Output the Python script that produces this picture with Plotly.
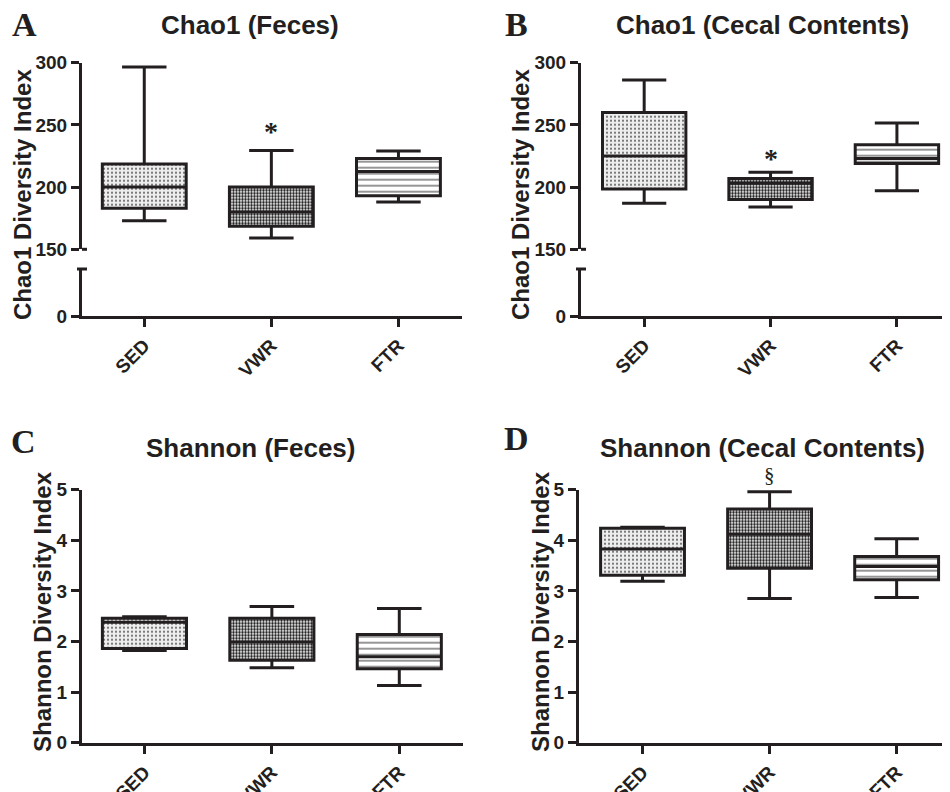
import plotly.graph_objects as go

cats = ["SED", "VWR", "FTR"]

# Panel A: Chao1 (Feces)
a_low = [173, 159, 188]
a_q1 = [183, 168.5, 193]
a_med = [200, 180, 212.5]
a_q3 = [218.5, 200, 223]
a_high = [296.5, 229.5, 229]

# Panel B: Chao1 (Cecal Contents)
b_low = [187, 184, 197]
b_q1 = [198.5, 190, 219]
b_med = [225, 203, 223]
b_q3 = [260, 207, 234]
b_high = [286, 212, 251.5]

# Panel C: Shannon (Feces)
c_low = [1.82, 1.48, 1.13]
c_q1 = [1.86, 1.63, 1.46]
c_med = [2.38, 1.99, 1.70]
c_q3 = [2.46, 2.46, 2.14]
c_high = [2.49, 2.69, 2.65]

# Panel D: Shannon (Cecal Contents)
d_low = [3.19, 2.85, 2.87]
d_q1 = [3.31, 3.45, 3.22]
d_med = [3.83, 4.12, 3.48]
d_q3 = [4.24, 4.62, 3.68]
d_high = [4.26, 4.96, 4.03]

# significance markers (on VWR)
sig_text = ["*", "*", "§"]
sig_y = [245, 223, 5.30]

chao_range = [150, 300]
chao_ticks = [150, 200, 250, 300]
shannon_range = [0, 5]
shannon_ticks = [0, 1, 2, 3, 4, 5]

INK = "#231f20"
FONT = "Liberation Sans"

pat_shape = [".", ".", "-"]
pat_fg = ["#555555", "#111111", "#8a8a8a"]
pat_bg = ["#ededed", "#ffffff", "#ffffff"]
pat_size = [4, 3, 6]
pat_sol = [0.2, 0.5, 0.3]

# page has an 8px body margin; figure is sized to fit the window
OFF = 8
W, H = 950 - OFF, 792 - OFF


def fx(px):
    return (px - OFF) / W


def fy(py):
    return 1 - (py - OFF) / H


fig = go.Figure()


def add_panel(xa, ya, low, q1, med, q3, high):
    fig.add_trace(go.Bar(
        x=cats, y=[b - a for a, b in zip(q1, q3)], base=q1, width=0.66,
        xaxis=xa, yaxis=ya, showlegend=False, hoverinfo="skip",
        marker=dict(color="white", line=dict(width=0),
                    pattern=dict(shape=pat_shape, fgcolor=pat_fg, bgcolor=pat_bg,
                                 size=pat_size, solidity=pat_sol, fillmode="replace")),
    ))
    fig.add_trace(go.Box(
        x=cats, q1=q1, median=med, q3=q3, lowerfence=low, upperfence=high,
        xaxis=xa, yaxis=ya, width=0.66, whiskerwidth=0.53,
        line=dict(color=INK, width=3), fillcolor="rgba(0,0,0,0)",
        showlegend=False, hoverinfo="skip", boxpoints=False,
    ))


add_panel("x", "y", a_low, a_q1, a_med, a_q3, a_high)
add_panel("x2", "y3", b_low, b_q1, b_med, b_q3, b_high)
add_panel("x3", "y5", c_low, c_q1, c_med, c_q3, c_high)
add_panel("x4", "y6", d_low, d_q1, d_med, d_q3, d_high)
# dummy traces for the lower (broken) segments
fig.add_trace(go.Scatter(x=[], y=[], xaxis="x", yaxis="y2", showlegend=False))
fig.add_trace(go.Scatter(x=[], y=[], xaxis="x2", yaxis="y4", showlegend=False))

tickfont = dict(family=FONT, size=19, color=INK, weight="bold")
ax_common = dict(showline=True, linewidth=3, linecolor=INK, ticks="outside",
                 ticklen=8, tickwidth=3, tickcolor=INK, showgrid=False,
                 zeroline=False, tickfont=tickfont, fixedrange=True, automargin=False)

xA = [fx(82), fx(462)]
xB = [fx(581), 1.0]
xC = [fx(82), fx(463)]
xD = [fx(579), 1.0]
yUp = [fy(249.3), fy(62.7)]
yLow = [fy(316), fy(269)]
ySh = [fy(742.7), fy(489.7)]

xcat = dict(type="category", categoryorder="array", categoryarray=cats, tickangle=-45)

fig.update_layout(
    template="none",
    width=W, height=H, margin=dict(l=0, r=0, t=0, b=0, pad=0, autoexpand=False),
    paper_bgcolor="white", plot_bgcolor="rgba(0,0,0,0)",
    barmode="overlay", boxmode="overlay", showlegend=False,
    xaxis=dict(**ax_common, **xcat, domain=xA, range=[-0.49, 2.5], anchor="y2"),
    xaxis2=dict(**ax_common, **xcat, domain=xB, range=[-0.5, 2.42], anchor="y4"),
    xaxis3=dict(**ax_common, **xcat, domain=xC, range=[-0.49, 2.5], anchor="y5"),
    xaxis4=dict(**ax_common, **xcat, domain=xD, range=[-0.5, 2.42], anchor="y6"),
    yaxis=dict(**ax_common, domain=yUp, range=chao_range, tickvals=chao_ticks, anchor="x"),
    yaxis2=dict(**ax_common, domain=yLow, range=[0, 1], tickvals=[0], anchor="x"),
    yaxis3=dict(**ax_common, domain=yUp, range=chao_range, tickvals=chao_ticks, anchor="x2"),
    yaxis4=dict(**ax_common, domain=yLow, range=[0, 1], tickvals=[0], anchor="x2"),
    yaxis5=dict(**ax_common, domain=ySh, range=shannon_range, tickvals=shannon_ticks, anchor="x3"),
    yaxis6=dict(**ax_common, domain=ySh, range=shannon_range, tickvals=shannon_ticks, anchor="x4"),
)

# axis break caps
shapes = []
for xa, yu, yl, dw in [("x", "y", "y2", 5 / 380), ("x2", "y3", "y4", 5 / 369)]:
    shapes.append(dict(type="line", xref=f"{xa} domain", yref=f"{yu} domain",
                       x0=0, x1=dw, y0=0, y1=0, line=dict(color=INK, width=3)))
    shapes.append(dict(type="line", xref=f"{xa} domain", yref=f"{yl} domain",
                       x0=-dw, x1=dw, y0=1, y1=1, line=dict(color=INK, width=3)))
fig.update_layout(shapes=shapes)

ann = []
titles = [("Chao1 (Feces)", 250, 25), ("Chao1 (Cecal Contents)", 762, 25),
          ("Shannon (Feces)", 250, 448), ("Shannon (Cecal Contents)", 762, 448)]
for t, px, py in titles:
    ann.append(dict(text=t, x=fx(px), y=fy(py), xref="paper", yref="paper",
                    showarrow=False, xanchor="center", yanchor="middle",
                    font=dict(family=FONT, size=26, color=INK, weight="bold")))
letters = [("A", 24, 25), ("B", 516, 25), ("C", 23, 441), ("D", 516, 438)]
for t, px, py in letters:
    ann.append(dict(text=t, x=fx(px), y=fy(py), xref="paper", yref="paper",
                    showarrow=False, xanchor="center", yanchor="middle",
                    font=dict(family="Liberation Serif", size=34, color=INK, weight="bold")))
ytitles = [("Chao1 Diversity Index", 23, 195), ("Chao1 Diversity Index", 521, 195),
           ("Shannon Diversity Index", 42, 612), ("Shannon Diversity Index", 540, 612)]
for t, px, py in ytitles:
    ann.append(dict(text=t, x=fx(px), y=fy(py), xref="paper", yref="paper",
                    showarrow=False, xanchor="center", yanchor="middle", textangle=-90,
                    font=dict(family=FONT, size=24, color=INK, weight="bold")))
# significance marks: placed in axis-domain units derived from the data value
for t, yv, xa, ya, rng, sz in zip(sig_text, sig_y, ["x", "x2", "x4"], ["y", "y3", "y6"],
                                  [chao_range, chao_range, shannon_range], [28, 28, 21]):
    ann.append(dict(text=t, x="VWR", y=(yv - rng[0]) / (rng[1] - rng[0]),
                    xref=xa, yref=f"{ya} domain", showarrow=False,
                    xanchor="center", yanchor="middle",
                    font=dict(family="Liberation Serif", size=sz, color=INK,
                              weight="bold" if t == "*" else "normal")))
fig.update_layout(annotations=ann)

fig.write_html("out.html")
